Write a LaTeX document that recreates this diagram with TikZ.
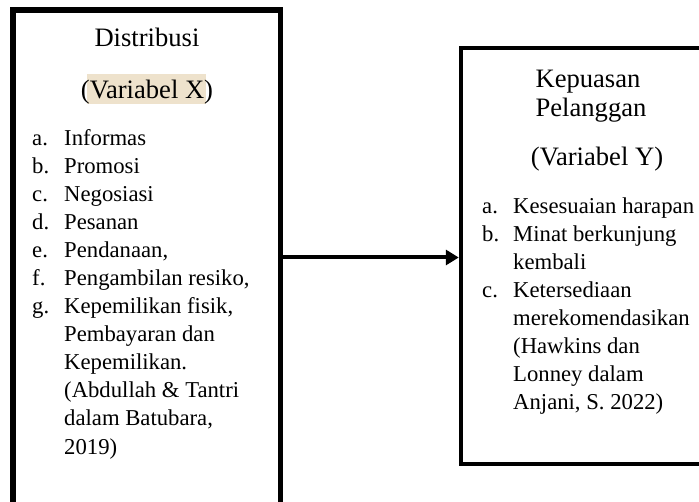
\documentclass[tikz,border=0pt]{standalone}
\usepackage{fontspec}
\setmainfont{Liberation Serif}
\usetikzlibrary{arrows.meta}
\definecolor{hlcol}{RGB}{238,226,204}
\begin{document}
\begin{tikzpicture}[x=1pt,y=-1pt,
  lst/.style={anchor=base west, inner sep=0pt, font=\fontsize{22.7}{28}\selectfont},
  ttl/.style={anchor=base, inner sep=0pt, font=\fontsize{26.6}{30}\selectfont},
  boxL/.style={draw=black, line width=5.5pt, inner sep=0pt},
  boxR/.style={draw=black, line width=4.5pt, inner sep=0pt},
  conn/.style={line width=4pt, -{Triangle[length=13pt,width=15pt]}}]
\useasboundingbox (0,0) rectangle (699,502);
\clip (0,0) rectangle (699,502);
\fill[white] (0,0) rectangle (699,502);
% boxes
\node[boxL, minimum width=267.5pt, minimum height=495pt] (bx) at (146.75,257.5) {};
\node[boxR, minimum width=244pt, minimum height=416pt] (by) at (583,256) {};
% connector
\draw[conn] (bx.east) -- (bx.east -| by.west);
% left titles
\fill[hlcol] (87,74) rectangle (206,104);
\node[ttl] (tx1) at (147,47) {Distribusi};
\node[ttl] (tx2) at (147,99) {(Variabel X)};
% left list
\foreach \i/\b/\l/\t in {1/146/a./Informas, 2/174/b./Promosi, 3/202/c./Negosiasi,
  4/230/d./Pesanan, 5/258/e./{Pendanaan,}, 6/286/f./{Pengambilan resiko,},
  7/314/g./{Kepemilikan fisik,}}{
  \node[lst] (xl\i) at (32,\b) {\l};
  \node[lst] (xt\i) at (64,\b) {\t};
}
\foreach \i/\b/\t in {8/342/Pembayaran dan, 9/370/Kepemilikan., 10/398/(Abdullah \& Tantri,
  11/426/{dalam Batubara,}, 12/454/2019)}{
  \node[lst] (xt\i) at (64,\b) {\t};
}
% right titles
\node[ttl] (ty1) at (588,88) {Kepuasan};
\node[ttl] (ty2) at (591,117) {Pelanggan};
\node[ttl] (ty3) at (597,166) {(Variabel Y)};
% right list
\foreach \i/\b/\l/\t in {1/214/a./Kesesuaian harapan, 2/242/b./Minat berkunjung,
  4/298/c./Ketersediaan}{
  \node[lst] (yl\i) at (482,\b) {\l};
  \node[lst] (yt\i) at (513,\b) {\t};
}
\foreach \i/\b/\t in {3/270/kembali, 5/326/merekomendasikan, 6/354/(Hawkins dan,
  7/382/Lonney dalam, 8/410/{Anjani, S. 2022)}}{
  \node[lst] (yt\i) at (513,\b) {\t};
}
\end{tikzpicture}
\end{document}
